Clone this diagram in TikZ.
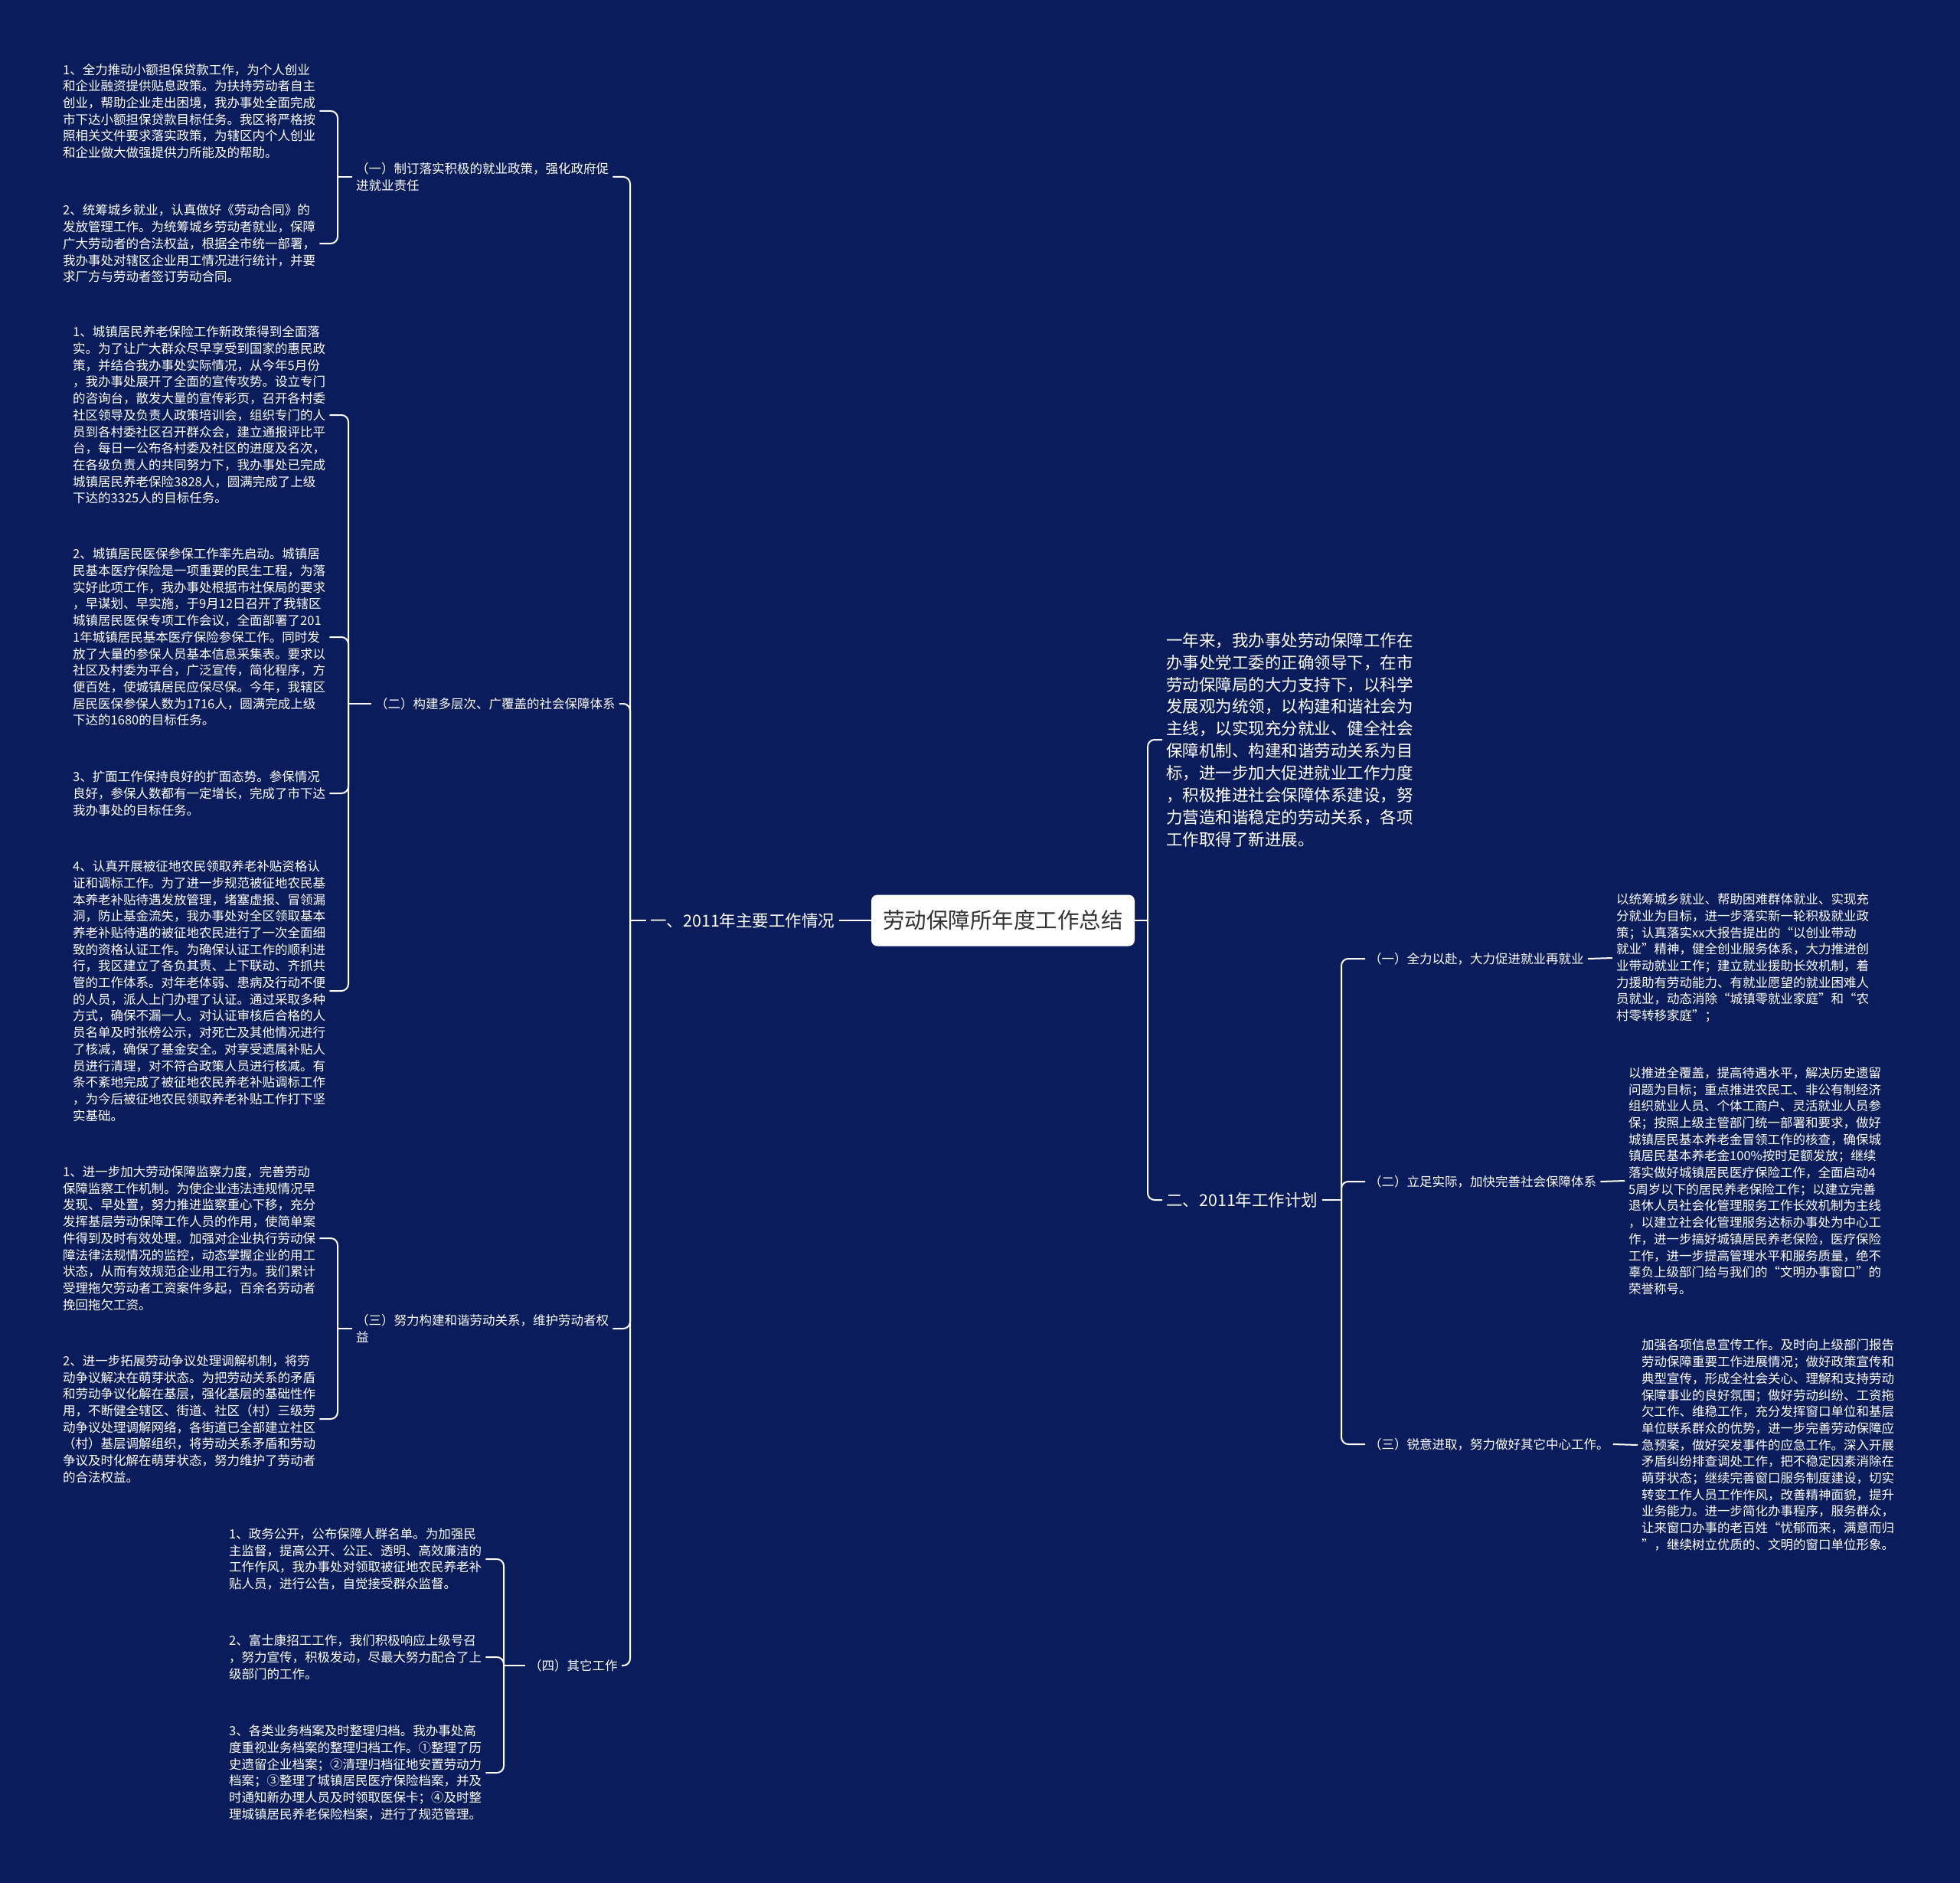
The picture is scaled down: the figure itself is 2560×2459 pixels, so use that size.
\documentclass[tikz,border=0pt]{standalone}
\usepackage{fontspec}
\setmainfont{Noto Sans CJK SC}
\usepackage{tikz}
\usetikzlibrary{calc}
\definecolor{navy}{HTML}{0A1C5B}

\begin{document}
\begin{tikzpicture}[x=1pt, y=-1pt,
    link/.style={draw=white, line width=2pt, rounded corners=9pt},
    leaf/.style={anchor=west, align=left, text=white, inner xsep=5pt, inner ysep=0pt,
      font=\fontsize{16.5}{21.7}\selectfont},
    big/.style={anchor=west, align=left, text=white, inner xsep=5pt, inner ysep=0pt,
      font=\fontsize{21.5}{28.85}\selectfont},
    topic/.style={fill=white, rounded corners=8pt, text=black!80, minimum width=344pt,
      minimum height=67pt, inner sep=0pt, font=\fontsize{28.5}{34}\selectfont}]
  % background
  \fill[navy] (0,0) rectangle (2560,2459);
  \useasboundingbox (0,0) rectangle (2560,2459);

  % centre
  \node[topic] (root) at (1310,1202) {劳动保障所年度工作总结};

  % left main branch
  \node[big] (m1) at (844,1202) {一、2011年主要工作情况};
  \node[leaf] (s1) at (460,231) {（一）制订落实积极的就业政策，强化政府促\\进就业责任};
  \node[leaf] (s2) at (485,919) {（二）构建多层次、广覆盖的社会保障体系};
  \node[leaf] (s3) at (460,1735) {（三）努力构建和谐劳动关系，维护劳动者权\\益};
  \node[leaf] (s4) at (686,2175) {（四）其它工作};

  % leaves of (一)
  \node[leaf] (l11) at (77,145) {1、全力推动小额担保贷款工作，为个人创业\\和企业融资提供贴息政策。为扶持劳动者自主\\创业，帮助企业走出困境，我办事处全面完成\\市下达小额担保贷款目标任务。我区将严格按\\照相关文件要求落实政策，为辖区内个人创业\\和企业做大做强提供力所能及的帮助。};
  \node[leaf] (l12) at (77,318) {2、统筹城乡就业，认真做好《劳动合同》的\\发放管理工作。为统筹城乡劳动者就业，保障\\广大劳动者的合法权益，根据全市统一部署，\\我办事处对辖区企业用工情况进行统计，并要\\求厂方与劳动者签订劳动合同。};

  % leaves of (二)
  \node[leaf] (l21) at (90,542) {1、城镇居民养老保险工作新政策得到全面落\\实。为了让广大群众尽早享受到国家的惠民政\\策，并结合我办事处实际情况，从今年5月份\\，我办事处展开了全面的宣传攻势。设立专门\\的咨询台，散发大量的宣传彩页，召开各村委\\社区领导及负责人政策培训会，组织专门的人\\员到各村委社区召开群众会，建立通报评比平\\台，每日一公布各村委及社区的进度及名次，\\在各级负责人的共同努力下，我办事处已完成\\城镇居民养老保险3828人，圆满完成了上级\\下达的3325人的目标任务。};
  \node[leaf] (l22) at (90,832) {2、城镇居民医保参保工作率先启动。城镇居\\民基本医疗保险是一项重要的民生工程，为落\\实好此项工作，我办事处根据市社保局的要求\\，早谋划、早实施，于9月12日召开了我辖区\\城镇居民医保专项工作会议，全面部署了201\\1年城镇居民基本医疗保险参保工作。同时发\\放了大量的参保人员基本信息采集表。要求以\\社区及村委为平台，广泛宣传，简化程序，方\\便百姓，使城镇居民应保尽保。今年，我辖区\\居民医保参保人数为1716人，圆满完成上级\\下达的1680的目标任务。};
  \node[leaf] (l23) at (90,1036) {3、扩面工作保持良好的扩面态势。参保情况\\良好，参保人数都有一定增长，完成了市下达\\我办事处的目标任务。};
  \node[leaf] (l24) at (90,1294) {4、认真开展被征地农民领取养老补贴资格认\\证和调标工作。为了进一步规范被征地农民基\\本养老补贴待遇发放管理，堵塞虚报、冒领漏\\洞，防止基金流失，我办事处对全区领取基本\\养老补贴待遇的被征地农民进行了一次全面细\\致的资格认证工作。为确保认证工作的顺利进\\行，我区建立了各负其责、上下联动、齐抓共\\管的工作体系。对年老体弱、患病及行动不便\\的人员，派人上门办理了认证。通过采取多种\\方式，确保不漏一人。对认证审核后合格的人\\员名单及时张榜公示，对死亡及其他情况进行\\了核减，确保了基金安全。对享受遗属补贴人\\员进行清理，对不符合政策人员进行核减。有\\条不紊地完成了被征地农民养老补贴调标工作\\，为今后被征地农民领取养老补贴工作打下坚\\实基础。};

  % leaves of (三)
  \node[leaf] (l31) at (77,1617) {1、进一步加大劳动保障监察力度，完善劳动\\保障监察工作机制。为使企业违法违规情况早\\发现、早处置，努力推进监察重心下移，充分\\发挥基层劳动保障工作人员的作用，使简单案\\件得到及时有效处理。加强对企业执行劳动保\\障法律法规情况的监控，动态掌握企业的用工\\状态，从而有效规范企业用工行为。我们累计\\受理拖欠劳动者工资案件多起，百余名劳动者\\挽回拖欠工资。};
  \node[leaf] (l32) at (77,1853) {2、进一步拓展劳动争议处理调解机制，将劳\\动争议解决在萌芽状态。为把劳动关系的矛盾\\和劳动争议化解在基层，强化基层的基础性作\\用，不断健全辖区、街道、社区（村）三级劳\\动争议处理调解网络，各街道已全部建立社区\\（村）基层调解组织，将劳动关系矛盾和劳动\\争议及时化解在萌芽状态，努力维护了劳动者\\的合法权益。};

  % leaves of (四)
  \node[leaf] (l41) at (294,2036) {1、政务公开，公布保障人群名单。为加强民\\主监督，提高公开、公正、透明、高效廉洁的\\工作作风，我办事处对领取被征地农民养老补\\贴人员，进行公告，自觉接受群众监督。};
  \node[leaf] (l42) at (294,2164) {2、富士康招工工作，我们积极响应上级号召\\，努力宣传，积极发动，尽最大努力配合了上\\级部门的工作。};
  \node[leaf] (l43) at (294,2315) {3、各类业务档案及时整理归档。我办事处高\\度重视业务档案的整理归档工作。①整理了历\\史遗留企业档案；②清理归档征地安置劳动力\\档案；③整理了城镇居民医疗保险档案，并及\\时通知新办理人员及时领取医保卡；④及时整\\理城镇居民养老保险档案，进行了规范管理。};

  % right side
  \node[big] (intro) at (1518,966) {一年来，我办事处劳动保障工作在\\办事处党工委的正确领导下，在市\\劳动保障局的大力支持下，以科学\\发展观为统领，以构建和谐社会为\\主线，以实现充分就业、健全社会\\保障机制、构建和谐劳动关系为目\\标，进一步加大促进就业工作力度\\，积极推进社会保障体系建设，努\\力营造和谐稳定的劳动关系，各项\\工作取得了新进展。};
  \node[big] (m2) at (1518,1567) {二、2011年工作计划};
  \node[leaf] (r1) at (1783,1252) {（一）全力以赴，大力促进就业再就业};
  \node[leaf] (r2) at (1783,1543) {（二）立足实际，加快完善社会保障体系};
  \node[leaf] (r3) at (1783,1886) {（三）锐意进取，努力做好其它中心工作。};
  \node[leaf] (q1) at (2106,1251) {以统筹城乡就业、帮助困难群体就业、实现充\\分就业为目标，进一步落实新一轮积极就业政\\策；认真落实xx大报告提出的“以创业带动\\就业”精神，健全创业服务体系，大力推进创\\业带动就业工作；建立就业援助长效机制，着\\力援助有劳动能力、有就业愿望的就业困难人\\员就业，动态消除“城镇零就业家庭”和“农\\村零转移家庭”；};
  \node[leaf] (q2) at (2122,1542) {以推进全覆盖，提高待遇水平，解决历史遗留\\问题为目标；重点推进农民工、非公有制经济\\组织就业人员、个体工商户、灵活就业人员参\\保；按照上级主管部门统一部署和要求，做好\\城镇居民基本养老金冒领工作的核查，确保城\\镇居民基本养老金100\%按时足额发放；继续\\落实做好城镇居民医疗保险工作，全面启动4\\5周岁以下的居民养老保险工作；以建立完善\\退休人员社会化管理服务工作长效机制为主线\\，以建立社会化管理服务达标办事处为中心工\\作，进一步搞好城镇居民养老保险，医疗保险\\工作，进一步提高管理水平和服务质量，绝不\\辜负上级部门给与我们的“文明办事窗口”的\\荣誉称号。};
  \node[leaf] (q3) at (2139,1887) {加强各项信息宣传工作。及时向上级部门报告\\劳动保障重要工作进展情况；做好政策宣传和\\典型宣传，形成全社会关心、理解和支持劳动\\保障事业的良好氛围；做好劳动纠纷、工资拖\\欠工作、维稳工作，充分发挥窗口单位和基层\\单位联系群众的优势，进一步完善劳动保障应\\急预案，做好突发事件的应急工作。深入开展\\矛盾纠纷排查调处工作，把不稳定因素消除在\\萌芽状态；继续完善窗口服务制度建设，切实\\转变工作人员工作作风，改善精神面貌，提升\\业务能力。进一步简化办事程序，服务群众，\\让来窗口办事的老百姓“忧郁而来，满意而归\\”，继续树立优质的、文明的窗口单位形象。};

  % bracket points
  \coordinate (k1) at (823,1202);
  \coordinate (k11) at (441,231);
  \coordinate (k12) at (455,919);
  \coordinate (k13) at (441,1735);
  \coordinate (k14) at (658,2175);
  \coordinate (kR) at (1499,1202);
  \coordinate (kR2) at (1752,1567);

  % connectors
  \draw[link] (root.west) -- (m1.east);
  \draw[link] (m1.west) -- (k1);
  \foreach \c in {s1,s2,s3,s4} \draw[link] (k1) |- (\c.east);
  \draw[link] (s1.west) -- (k11);
  \foreach \c in {l11,l12} \draw[link] (k11) |- (\c.east);
  \draw[link] (s2.west) -- (k12);
  \foreach \c in {l21,l22,l23,l24} \draw[link] (k12) |- (\c.east);
  \draw[link] (s3.west) -- (k13);
  \foreach \c in {l31,l32} \draw[link] (k13) |- (\c.east);
  \draw[link] (s4.west) -- (k14);
  \foreach \c in {l41,l42,l43} \draw[link] (k14) |- (\c.east);

  \draw[link] (root.east) -- (kR);
  \foreach \c in {intro,m2} \draw[link] (kR) |- (\c.west);
  \draw[link] (m2.east) -- (kR2);
  \foreach \c in {r1,r2,r3} \draw[link] (kR2) |- (\c.west);
  \foreach \a/\b in {r1/q1,r2/q2,r3/q3} \draw[link] (\a.east) -- (\b.west);
\end{tikzpicture}
\end{document}
